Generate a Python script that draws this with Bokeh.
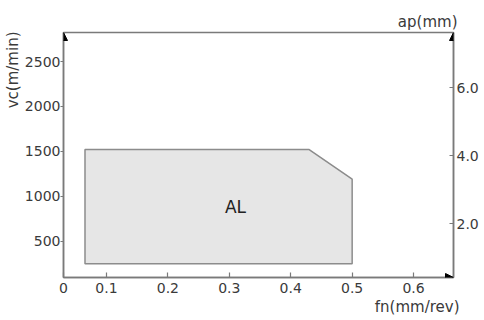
from bokeh.plotting import figure
from bokeh.models import (Range1d, LinearAxis, FixedTicker, PrintfTickFormatter,
                          Title, Arrow, NormalHead)
from bokeh.core.properties import value
from bokeh.embed import file_html
from bokeh.resources import INLINE

# ---- data ----
fn_range = (0.03, 0.665)          # feed fn (mm/rev); left end is labelled "0"
vc_range = (96, 2823)             # cutting speed vc (m/min)
ap_range = (0.42, 7.63)           # depth of cut ap (mm)
fn_ticks = [0.1, 0.2, 0.3, 0.4, 0.5, 0.6]
vc_ticks = [500, 1000, 1500, 2000, 2500]
ap_ticks = [2.0, 4.0, 6.0]

# AL working region (fn, vc)
region_fn = [0.065, 0.43, 0.5, 0.5, 0.065]
region_vc = [1520, 1520, 1190, 250, 250]
region_name = ["AL"]
region_label_fn = [0.31]
region_label_vc = [880]

AXIS = "#7a7a7a"
TXT = "#3a3a3a"
FONT = "DejaVu Sans"

p = figure(width=484, height=320, output_backend="svg", toolbar_location=None,
           x_range=Range1d(*fn_range), y_range=Range1d(*vc_range),
           min_border_left=63, min_border_right=31, min_border_top=32,
           min_border_bottom=43, background_fill_color="white",
           border_fill_color="white")
p.grid.visible = False
p.outline_line_color = AXIS
p.outline_line_width = 1.5
p.extra_y_ranges = {"ap": Range1d(*ap_range)}

# bottom axis
xa = p.xaxis[0]
xa.ticker = FixedTicker(ticks=[fn_range[0]] + fn_ticks)
xa.major_label_overrides = {fn_range[0]: "0"}
xa.major_tick_in = 5
xa.major_tick_out = 0
xa.minor_tick_line_color = None
xa.major_label_standoff = 5

# left axis
ya = p.yaxis[0]
ya.ticker = FixedTicker(ticks=vc_ticks)
ya.major_tick_in = 0
ya.major_tick_out = 3
ya.minor_tick_line_color = None
ya.major_label_standoff = 0

# right axis
ra = LinearAxis(y_range_name="ap", ticker=FixedTicker(ticks=ap_ticks),
                formatter=PrintfTickFormatter(format="%.1f"))
ra.major_tick_in = 4
ra.major_tick_out = 0
ra.minor_tick_line_color = None
ra.major_label_standoff = 3
p.add_layout(ra, "right")

for ax in [xa, ya, ra]:
    ax.axis_line_color = AXIS
    ax.axis_line_width = 1.5
    ax.major_tick_line_color = AXIS
    ax.major_tick_line_width = 1.2
    ax.major_label_text_color = TXT
    ax.major_label_text_font = FONT
    ax.major_label_text_font_size = "14px"

# region
p.patch(region_fn, region_vc, fill_color="#e6e6e6", line_color="#8c8c8c",
        line_width=1.5)
p.text(x=region_label_fn, y=region_label_vc, text=region_name,
       text_font=value(FONT), text_font_size="17px", text_color="#222222",
       text_align="center", text_baseline="middle")

# axis titles
def title(text, **kw):
    return Title(text=text, text_font=FONT, text_font_size="15px",
                 text_font_style="normal", text_color=TXT, **kw)

p.add_layout(title("vc(m/min)", align="right", offset=-1, standoff=0), "left")
p.add_layout(title("ap(mm)", align="right", offset=-4, standoff=4), "above")
p.add_layout(title("fn(mm/rev)", align="right", offset=-6, standoff=0), "below")

# arrow heads
dy = (vc_range[1] - vc_range[0]) * 0.02
dx = (fn_range[1] - fn_range[0]) * 0.02
for xs, ys, xe, ye in [(fn_range[0], vc_range[1] - dy, fn_range[0], vc_range[1]),
                       (fn_range[1], vc_range[1] - dy, fn_range[1], vc_range[1]),
                       (fn_range[1] - dx, vc_range[0], fn_range[1], vc_range[0])]:
    p.add_layout(Arrow(x_start=xs, y_start=ys, x_end=xe, y_end=ye,
                       line_alpha=0,
                       end=NormalHead(size=8, fill_color="black",
                                      line_color="black", line_width=1)))

open("out.html", "w").write(file_html(p, INLINE))
